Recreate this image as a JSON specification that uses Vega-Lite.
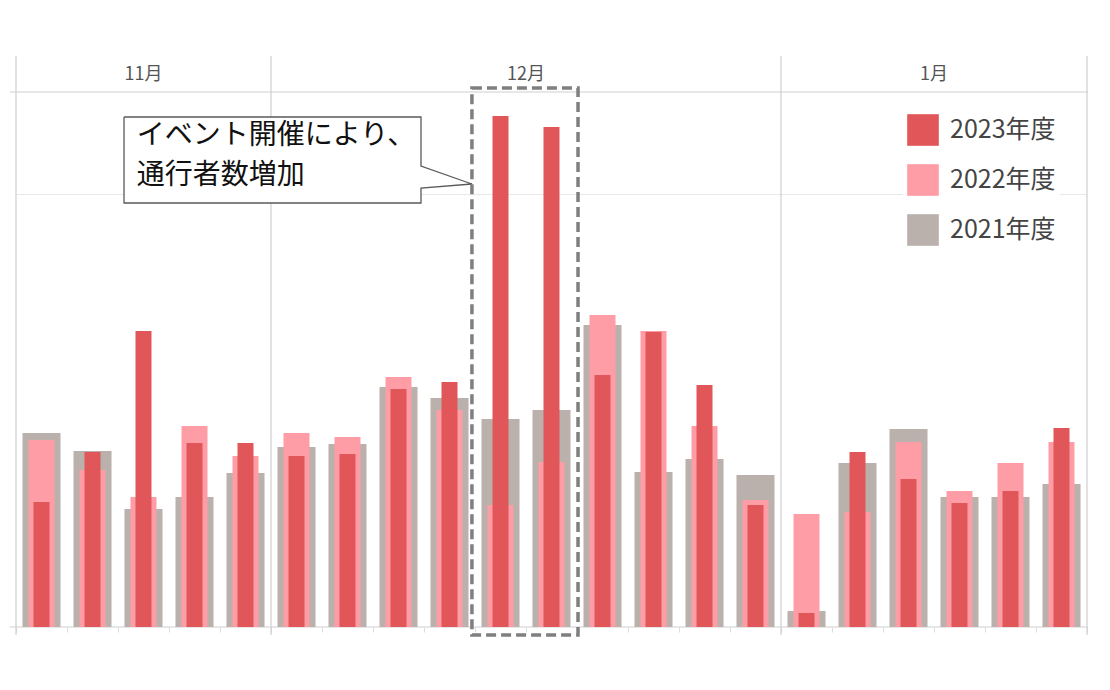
{
  "$schema": "https://vega.github.io/schema/vega-lite/v6.json",
  "width": 1071,
  "height": 535,
  "autosize": {"type": "none"},
  "padding": {"left": 16, "top": 92, "right": 23, "bottom": 63},
  "background": "white",
  "config": {"view": {"stroke": null}, "font": "Noto Sans CJK JP"},
  "datasets": {
    "traffic": [
      {"week": 1, "year": "2021年度", "count": 194}, {"week": 2, "year": "2021年度", "count": 176},
      {"week": 3, "year": "2021年度", "count": 118}, {"week": 4, "year": "2021年度", "count": 130},
      {"week": 5, "year": "2021年度", "count": 154}, {"week": 6, "year": "2021年度", "count": 180},
      {"week": 7, "year": "2021年度", "count": 183}, {"week": 8, "year": "2021年度", "count": 240},
      {"week": 9, "year": "2021年度", "count": 229}, {"week": 10, "year": "2021年度", "count": 208},
      {"week": 11, "year": "2021年度", "count": 217}, {"week": 12, "year": "2021年度", "count": 302},
      {"week": 13, "year": "2021年度", "count": 155}, {"week": 14, "year": "2021年度", "count": 168},
      {"week": 15, "year": "2021年度", "count": 152}, {"week": 16, "year": "2021年度", "count": 16},
      {"week": 17, "year": "2021年度", "count": 164}, {"week": 18, "year": "2021年度", "count": 198},
      {"week": 19, "year": "2021年度", "count": 130}, {"week": 20, "year": "2021年度", "count": 130},
      {"week": 21, "year": "2021年度", "count": 143},
      {"week": 1, "year": "2022年度", "count": 187}, {"week": 2, "year": "2022年度", "count": 157},
      {"week": 3, "year": "2022年度", "count": 130}, {"week": 4, "year": "2022年度", "count": 201},
      {"week": 5, "year": "2022年度", "count": 171}, {"week": 6, "year": "2022年度", "count": 194},
      {"week": 7, "year": "2022年度", "count": 190}, {"week": 8, "year": "2022年度", "count": 250},
      {"week": 9, "year": "2022年度", "count": 217}, {"week": 10, "year": "2022年度", "count": 122},
      {"week": 11, "year": "2022年度", "count": 165}, {"week": 12, "year": "2022年度", "count": 312},
      {"week": 13, "year": "2022年度", "count": 296}, {"week": 14, "year": "2022年度", "count": 201},
      {"week": 15, "year": "2022年度", "count": 127}, {"week": 16, "year": "2022年度", "count": 113},
      {"week": 17, "year": "2022年度", "count": 115}, {"week": 18, "year": "2022年度", "count": 185},
      {"week": 19, "year": "2022年度", "count": 136}, {"week": 20, "year": "2022年度", "count": 164},
      {"week": 21, "year": "2022年度", "count": 185},
      {"week": 1, "year": "2023年度", "count": 125}, {"week": 2, "year": "2023年度", "count": 175},
      {"week": 3, "year": "2023年度", "count": 296}, {"week": 4, "year": "2023年度", "count": 184},
      {"week": 5, "year": "2023年度", "count": 184}, {"week": 6, "year": "2023年度", "count": 171},
      {"week": 7, "year": "2023年度", "count": 173}, {"week": 8, "year": "2023年度", "count": 238},
      {"week": 9, "year": "2023年度", "count": 245}, {"week": 10, "year": "2023年度", "count": 511},
      {"week": 11, "year": "2023年度", "count": 500}, {"week": 12, "year": "2023年度", "count": 252},
      {"week": 13, "year": "2023年度", "count": 295}, {"week": 14, "year": "2023年度", "count": 242},
      {"week": 15, "year": "2023年度", "count": 122}, {"week": 16, "year": "2023年度", "count": 14},
      {"week": 17, "year": "2023年度", "count": 175}, {"week": 18, "year": "2023年度", "count": 148},
      {"week": 19, "year": "2023年度", "count": 124}, {"week": 20, "year": "2023年度", "count": 136},
      {"week": 21, "year": "2023年度", "count": 199}
    ],
    "dividers": [
      {"x": 0.5, "y": 571, "y2": -8}, {"x": 5.5, "y": 571, "y2": -8},
      {"x": 15.5, "y": 571, "y2": -8}, {"x": 21.5, "y": 571, "y2": -8}
    ],
    "hlines": [
      {"x": 0.38, "x2": 21.52, "y": 0}, {"x": 0.38, "x2": 21.52, "y": 535}
    ],
    "months": [
      {"month": "11月", "x": 3, "y": 552}, {"month": "12月", "x": 10.5, "y": 552}, {"month": "1月", "x": 18.5, "y": 552}
    ],
    "callout_box": [{"x": 2.618, "x2": 8.441, "y": 510, "y2": 424}],
    "callout_path": [
      {"i": 1, "x": 2.618, "y": 510}, {"i": 2, "x": 8.441, "y": 510}, {"i": 3, "x": 8.441, "y": 461},
      {"i": 4, "x": 9.44, "y": 443}, {"i": 5, "x": 8.441, "y": 439}, {"i": 6, "x": 8.441, "y": 424},
      {"i": 7, "x": 2.618, "y": 424}, {"i": 8, "x": 2.618, "y": 510}
    ],
    "callout_text": [{"x": 2.87, "y": 491, "text": "イベント開催により、\n通行者数増加"}],
    "highlight": [{"x": 9.44, "x2": 11.52, "y": 539, "y2": -8}]
  },
  "layer": [
    {
      "data": {"name": "dividers"},
      "mark": {"type": "rule", "color": "#cfcfcf", "strokeWidth": 1.2},
      "encoding": {
        "x": {"field": "x", "type": "quantitative", "scale": {"domain": [0.5, 21.5], "nice": false, "zero": false, "padding": 0}, "axis": {"title": null}},
        "y": {"field": "y", "type": "quantitative", "scale": {"domain": [0, 535], "nice": false, "zero": false, "padding": 0}, "axis": {"title": null}},
        "y2": {"field": "y2"}
      }
    },
    {
      "data": {"name": "hlines"},
      "mark": {"type": "rule", "color": "#cfcfcf", "strokeWidth": 1.2},
      "encoding": {
        "x": {"field": "x", "type": "quantitative", "scale": {"domain": [0.5, 21.5], "nice": false, "zero": false, "padding": 0}, "axis": {"title": null}},
        "x2": {"field": "x2"},
        "y": {"field": "y", "type": "quantitative", "scale": {"domain": [0, 535], "nice": false, "zero": false, "padding": 0}, "axis": {"title": null}}
      }
    },
    {
      "data": {"name": "traffic"},
      "transform": [{"filter": "datum.year === '2021年度'"}],
      "mark": {"type": "bar", "width": 38},
      "encoding": {
        "x": {
          "field": "week", "type": "quantitative",
          "scale": {"domain": [0.5, 21.5], "nice": false, "zero": false, "padding": 0},
          "axis": {
            "title": null, "labels": false, "domain": false, "grid": false,
            "values": [0.5, 1.5, 2.5, 3.5, 4.5, 5.5, 6.5, 7.5, 8.5, 9.5, 10.5, 11.5, 12.5, 13.5, 14.5, 15.5, 16.5, 17.5, 18.5, 19.5, 20.5, 21.5],
            "tickSize": 5, "tickColor": "#dddddd"
          }
        },
        "y": {
          "field": "count", "type": "quantitative",
          "scale": {"domain": [0, 535], "nice": false, "zero": false, "padding": 0},
          "axis": {"title": null, "values": [433], "grid": true, "gridColor": "#e8e8e8", "labels": false, "ticks": false, "domain": false}
        },
        "color": {
          "field": "year", "type": "nominal",
          "scale": {"domain": ["2023年度", "2022年度", "2021年度"], "range": ["#e15759", "#ff9da7", "#bab0ac"]},
          "legend": {
            "orient": "none", "legendX": 887, "legendY": 18, "title": null,
            "symbolType": "square", "symbolSize": 1000, "symbolStrokeWidth": 0,
            "labelFontSize": 25, "labelColor": "#444444", "labelOffset": 11,
            "rowPadding": 18, "padding": 4, "fillColor": "white"
          }
        }
      }
    },
    {
      "data": {"name": "traffic"},
      "transform": [{"filter": "datum.year === '2022年度'"}],
      "mark": {"type": "bar", "width": 26},
      "encoding": {
        "x": {"field": "week", "type": "quantitative", "scale": {"domain": [0.5, 21.5], "nice": false, "zero": false, "padding": 0}, "axis": {"title": null}},
        "y": {"field": "count", "type": "quantitative", "scale": {"domain": [0, 535], "nice": false, "zero": false, "padding": 0}, "axis": {"title": null}},
        "color": {"field": "year", "type": "nominal", "scale": {"domain": ["2023年度", "2022年度", "2021年度"], "range": ["#e15759", "#ff9da7", "#bab0ac"]}}
      }
    },
    {
      "data": {"name": "traffic"},
      "transform": [{"filter": "datum.year === '2023年度'"}],
      "mark": {"type": "bar", "width": 16},
      "encoding": {
        "x": {"field": "week", "type": "quantitative", "scale": {"domain": [0.5, 21.5], "nice": false, "zero": false, "padding": 0}, "axis": {"title": null}},
        "y": {"field": "count", "type": "quantitative", "scale": {"domain": [0, 535], "nice": false, "zero": false, "padding": 0}, "axis": {"title": null}},
        "color": {"field": "year", "type": "nominal", "scale": {"domain": ["2023年度", "2022年度", "2021年度"], "range": ["#e15759", "#ff9da7", "#bab0ac"]}}
      }
    },
    {
      "data": {"name": "months"},
      "mark": {"type": "text", "fontSize": 18, "color": "#555555", "baseline": "middle"},
      "encoding": {
        "x": {"field": "x", "type": "quantitative", "scale": {"domain": [0.5, 21.5], "nice": false, "zero": false, "padding": 0}, "axis": {"title": null}},
        "y": {"field": "y", "type": "quantitative", "scale": {"domain": [0, 535], "nice": false, "zero": false, "padding": 0}, "axis": {"title": null}},
        "text": {"field": "month"}
      }
    },
    {
      "data": {"name": "callout_box"},
      "mark": {"type": "rect", "fill": "white", "strokeWidth": 0},
      "encoding": {
        "x": {"field": "x", "type": "quantitative", "scale": {"domain": [0.5, 21.5], "nice": false, "zero": false, "padding": 0}, "axis": {"title": null}},
        "x2": {"field": "x2"},
        "y": {"field": "y", "type": "quantitative", "scale": {"domain": [0, 535], "nice": false, "zero": false, "padding": 0}, "axis": {"title": null}},
        "y2": {"field": "y2"}
      }
    },
    {
      "data": {"name": "callout_path"},
      "mark": {"type": "line", "color": "#5a5a5a", "strokeWidth": 1.3},
      "encoding": {
        "x": {"field": "x", "type": "quantitative", "scale": {"domain": [0.5, 21.5], "nice": false, "zero": false, "padding": 0}, "axis": {"title": null}},
        "y": {"field": "y", "type": "quantitative", "scale": {"domain": [0, 535], "nice": false, "zero": false, "padding": 0}, "axis": {"title": null}},
        "order": {"field": "i"}
      }
    },
    {
      "data": {"name": "callout_text"},
      "mark": {"type": "text", "fontSize": 28, "color": "#111111", "align": "left", "baseline": "middle", "lineBreak": "\n", "lineHeight": 40},
      "encoding": {
        "x": {"field": "x", "type": "quantitative", "scale": {"domain": [0.5, 21.5], "nice": false, "zero": false, "padding": 0}, "axis": {"title": null}},
        "y": {"field": "y", "type": "quantitative", "scale": {"domain": [0, 535], "nice": false, "zero": false, "padding": 0}, "axis": {"title": null}},
        "text": {"field": "text"}
      }
    },
    {
      "data": {"name": "highlight"},
      "mark": {"type": "rect", "fill": null, "fillOpacity": 0, "stroke": "#7f7f7f", "strokeWidth": 3.5, "strokeDash": [10, 5]},
      "encoding": {
        "x": {"field": "x", "type": "quantitative", "scale": {"domain": [0.5, 21.5], "nice": false, "zero": false, "padding": 0}, "axis": {"title": null}},
        "x2": {"field": "x2"},
        "y": {"field": "y", "type": "quantitative", "scale": {"domain": [0, 535], "nice": false, "zero": false, "padding": 0}, "axis": {"title": null}},
        "y2": {"field": "y2"}
      }
    }
  ]
}
